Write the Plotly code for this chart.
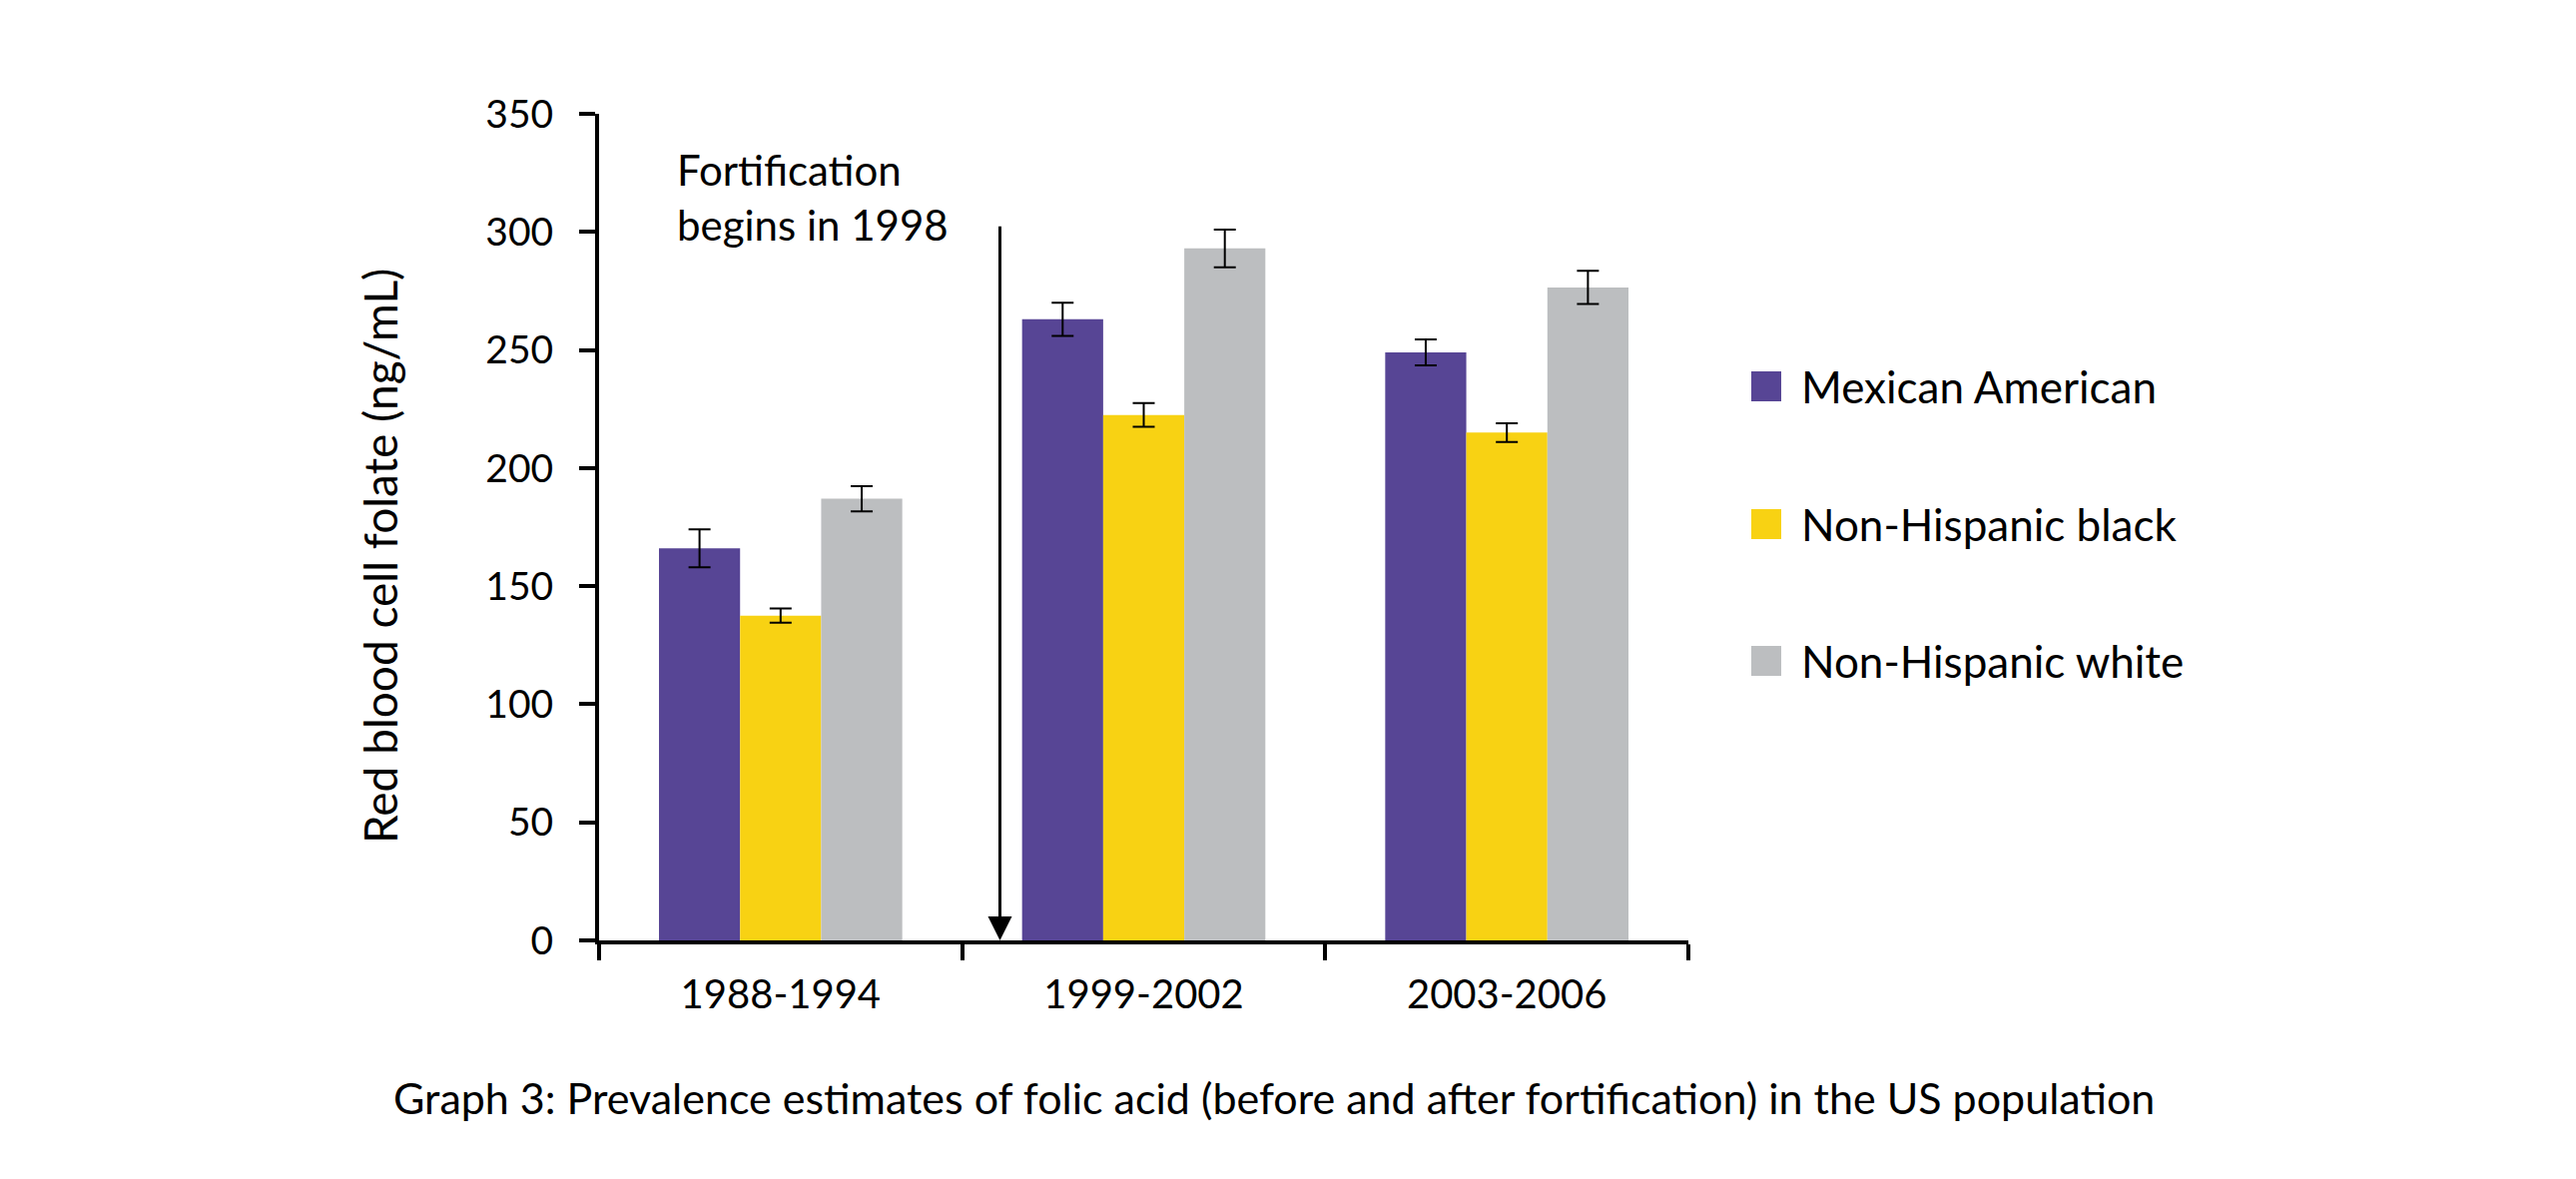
import plotly.graph_objects as go

periods = ["1988-1994", "1999-2002", "2003-2006"]
groups = ["Mexican American", "Non-Hispanic black", "Non-Hispanic white"]
mexican = [166, 263, 249]
mexican_err = [8, 7, 5.5]
black = [137.5, 222.5, 215]
black_err = [3, 5, 4]
white = [187, 293, 276.5]
white_err = [5.3, 8, 7]
colors = ["#574595", "#F8D213", "#BCBEC0"]

FONT = "Lato"
W, H = 2580, 1181
# page has ~8px body margin, so the plot box is shifted up/left by that much
OFF = 8
L, R, T, B = 600 - OFF, 889 + OFF, 114 - OFF, 239 + OFF

fig = go.Figure()
for name, vals, errs, col in zip(groups, [mexican, black, white],
                                 [mexican_err, black_err, white_err], colors):
    fig.add_trace(go.Bar(
        x=periods, y=vals, name=name, marker_color=col, marker_line_width=0,
        error_y=dict(type="data", array=errs, color="black", thickness=2, width=11),
        showlegend=False,
    ))

# arrow marking start of fortification
fig.add_annotation(x=0.604, y=0, ax=0.604, ay=303, xref="x", yref="y",
                   axref="x", ayref="y", text="", showarrow=True,
                   arrowhead=2, arrowsize=1.6, arrowwidth=3, arrowcolor="black")
fig.add_annotation(x=0.070, y=0.965, xref="paper", yref="paper",
                   xanchor="left", yanchor="top", align="left", showarrow=False,
                   text="Fortification<br>begins in 1998",
                   font=dict(family=FONT, size=42, color="black"))

pw = W - L - R
ph = H - T - B

# y title sits a bit below the axis middle in the original, so place it by hand
fig.add_annotation(x=(380 - 600) / pw, y=(942 - 557) / ph, xref="paper", yref="paper",
                   xanchor="center", yanchor="middle", showarrow=False, textangle=-90,
                   text="Red blood cell folate (ng/mL)",
                   font=dict(family=FONT, size=46, color="black"))

# legend drawn by hand so the swatches can be large
legend_y = [387, 525, 662]
for name, col, py in zip(groups, colors, legend_y):
    yc = (942 - py) / ph
    fig.add_shape(type="rect", xref="paper", yref="paper",
                  x0=(1754 - 600) / pw, x1=(1784 - 600) / pw,
                  y0=yc - 15 / ph, y1=yc + 15 / ph,
                  fillcolor=col, line_width=0)
    fig.add_annotation(x=(1802 - 600) / pw, y=yc, xref="paper", yref="paper",
                       xanchor="left", yanchor="middle", showarrow=False,
                       text=name, font=dict(family=FONT, size=44, color="black"))

fig.add_annotation(x=(1276 - 600) / pw, y=(942 - 1099) / ph, xref="paper", yref="paper",
                   xanchor="center", yanchor="middle", showarrow=False,
                   text="Graph 3: Prevalence estimates of folic acid (before and after fortification) in the US population",
                   font=dict(family=FONT, size=43, color="black"))

fig.update_layout(
    width=W, height=H,
    margin=dict(l=L, r=R, t=T, b=B),
    barmode="group", bargap=0.33, bargroupgap=0,
    plot_bgcolor="white", paper_bgcolor="white",
    font=dict(family=FONT, size=38, color="black"),
)
fig.update_xaxes(showline=True, linecolor="black", linewidth=4, ticks="outside",
                 tickson="boundaries", ticklen=16, tickwidth=4, tickcolor="black",
                 tickfont=dict(size=40), ticklabelstandoff=16, showgrid=False)
fig.update_yaxes(range=[0, 350], dtick=50, showline=True, linecolor="black", linewidth=4,
                 ticks="outside", ticklen=16, tickwidth=4, tickcolor="black",
                 tickfont=dict(size=39), ticklabelstandoff=18, showgrid=False, zeroline=False)

fig.write_html("out.html")
